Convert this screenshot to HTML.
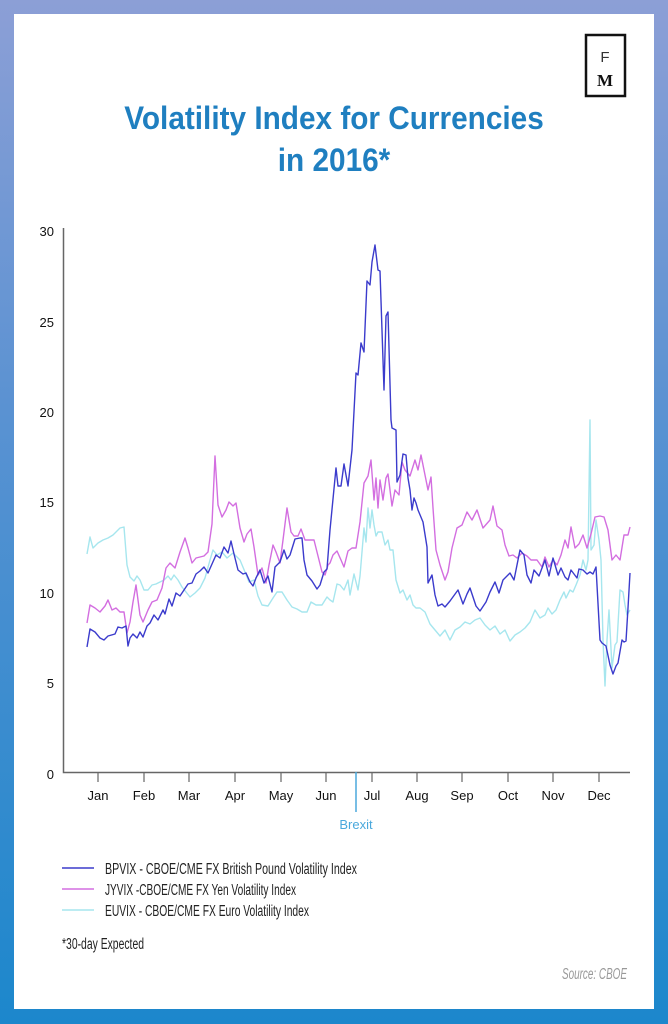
<!DOCTYPE html>
<html><head><meta charset="utf-8"><style>
body{margin:0;width:668px;height:1024px;overflow:hidden;background:linear-gradient(#8c9fd6,#5a92d2 40%,#1c87cc);font-family:"Liberation Sans",sans-serif}
.panel{position:absolute;left:14px;top:14px;width:640px;height:995px;background:#fff}
.t{position:absolute;left:0;width:668px;text-align:center;color:#1f7fc0;font-family:"Liberation Sans",sans-serif;font-weight:bold;font-size:32px;line-height:42px;transform:scaleX(0.93)}
</style></head><body>
<div class="panel"></div>
<div class="t" style="top:97px">Volatility Index for Currencies</div>
<div class="t" style="top:139px">in 2016*</div>
<svg width="668" height="1024" style="position:absolute;left:0;top:0" font-family="Liberation Sans,sans-serif">
<rect x="586" y="35" width="39" height="61" fill="none" stroke="#111" stroke-width="2.5"/>
<text x="605" y="62" font-size="15" text-anchor="middle" fill="#333">F</text>
<text x="605" y="86" font-size="17" font-weight="bold" font-family="Liberation Serif,serif" text-anchor="middle" fill="#111">M</text>
<g font-size="13" fill="#111" text-anchor="end">
<text x="54" y="236">30</text><text x="54" y="327">25</text><text x="54" y="417">20</text><text x="54" y="507">15</text><text x="54" y="598">10</text><text x="54" y="688">5</text><text x="54" y="779">0</text></g>
<path d="M63.5 228V772.5H630" stroke="#666" stroke-width="1.5" fill="none"/>
<g stroke="#666" stroke-width="1.2">
<path d="M98 772v10M144 772v10M189 772v10M235 772v10M281 772v10M326 772v10M372 772v10M417 772v10M462 772v10M508 772v10M553 772v10M599 772v10"/></g>
<line x1="356" y1="772" x2="356" y2="812" stroke="#4aa8dc" stroke-width="1.5"/>
<g font-size="13" fill="#111" text-anchor="middle">
<text x="98" y="800">Jan</text><text x="144" y="800">Feb</text><text x="189" y="800">Mar</text><text x="235" y="800">Apr</text><text x="281" y="800">May</text><text x="326" y="800">Jun</text><text x="372" y="800">Jul</text><text x="417" y="800">Aug</text><text x="462" y="800">Sep</text><text x="508" y="800">Oct</text><text x="553" y="800">Nov</text><text x="599" y="800">Dec</text></g>
<text x="356" y="829" font-size="13" fill="#4aa8dc" text-anchor="middle">Brexit</text>
<g fill="none" stroke-width="1.4" stroke-linejoin="round">
<polyline stroke="#a6e6ee" points="87,554 90,537 93,548 98,543 103,540 108,538 113,535 117,531 120,528 124,527 127,565 130,577 134,581 137,576 140,580 144,590 148,590 152,585 156,584 160,582 164,580 168,576 171,580 174,575 178,580 182,587 186,592 190,597 195,593 200,588 205,578 210,560 213,550 217,555 222,552 227,558 233,553 240,560 245,572 249,582 254,580 258,596 262,605 268,606 273,598 277,592 282,592 287,600 292,607 297,609 302,612 307,612 311,602 316,605 322,605 327,597 330,600 333,602 337,584 340,585 344,590 348,580 350,595 354,574 358,590 360,576 364,528 366,542 368,508 370,528 372,510 374,525 376,536 378,532 382,532 385,545 388,540 390,550 393,550 396,580 400,593 403,590 407,600 410,595 413,605 416,608 420,608 425,612 430,624 435,630 440,636 445,630 450,640 455,630 460,627 465,622 470,624 475,620 480,618 485,625 490,630 495,626 500,634 505,630 510,641 515,635 520,632 525,628 530,622 535,610 540,618 545,615 548,608 552,614 556,610 560,600 564,592 566,598 570,590 573,592 576,585 580,575 583,560 586,570 588,560 590,420 591,550 594,545 596,520 599,540 601,560 603,640 605,686 607,640 609,610 612,668 615,645 617,642 620,590 623,592 625,605 627,615 630,610"/>
<polyline stroke="#d36ee0" points="87,623 90,605 95,608 100,612 105,606 108,600 112,610 116,608 120,612 124,612 127,633 130,622 133,602 136,585 140,615 143,622 148,610 152,602 157,600 162,588 166,568 170,563 175,568 180,552 185,538 188,548 192,563 196,558 200,557 204,556 208,552 212,524 215,456 218,505 222,517 226,510 229,502 233,506 236,503 240,528 244,542 247,534 251,529 254,547 258,575 262,568 266,583 269,565 273,545 276,552 280,563 283,540 287,508 291,532 294,536 298,536 301,529 305,540 309,540 314,540 317,552 322,572 325,575 328,565 330,563 333,555 337,551 341,560 344,567 348,551 352,548 356,548 360,522 364,483 368,476 371,460 374,500 376,478 378,508 380,480 383,500 386,478 388,474 392,506 395,490 399,495 402,462 405,470 410,476 415,460 418,470 421,455 425,475 428,490 431,477 433,508 436,550 440,565 445,580 448,572 452,548 457,528 462,525 467,512 472,520 477,510 483,528 490,520 493,506 497,526 502,530 505,545 509,556 513,555 517,558 522,553 527,556 531,560 537,560 542,567 545,557 549,567 553,560 557,565 561,555 565,540 568,548 571,527 575,548 579,544 583,535 587,548 591,534 595,517 600,516 604,517 608,530 612,560 616,555 620,560 624,535 628,535 630,527"/>
<polyline stroke="#3b3bcc" points="87,647 90,629 95,632 100,638 104,640 108,636 115,634 118,627 122,628 126,626 128,646 130,638 133,634 137,638 140,632 143,637 147,626 150,623 154,615 158,620 163,610 165,614 169,599 172,606 176,593 180,596 184,590 188,584 192,583 196,574 200,571 204,567 208,573 212,564 216,555 220,558 224,547 228,553 231,541 234,554 238,570 243,574 246,573 250,582 253,586 256,578 260,570 264,583 268,576 272,592 275,567 280,562 284,550 287,559 290,555 295,539 300,538 302,538 304,560 307,575 312,581 317,589 320,585 324,572 327,569 330,530 336,468 338,486 341,486 344,464 348,486 352,450 356,373 358,375 361,343 364,352 367,281 370,285 372,262 375,245 378,270 380,271 383,360 384,390 386,316 388,312 391,420 392,428 396,430 397,482 400,475 403,454 406,455 408,478 410,490 412,510 414,498 416,503 418,510 423,522 427,547 428,583 432,575 435,595 438,606 442,604 445,607 450,601 458,590 463,604 467,594 470,588 476,606 480,611 486,602 490,592 495,582 499,593 503,580 510,573 514,580 520,550 524,555 527,575 531,583 534,570 539,576 545,560 549,576 553,558 558,575 561,568 565,577 568,580 571,570 577,578 579,569 583,570 587,574 590,572 593,574 596,567 600,640 602,643 606,646 610,665 613,674 616,666 618,663 622,640 624,642 626,641 628,608 630,573"/>
</g>
<g stroke-width="1.5"><line x1="62" y1="868" x2="94" y2="868" stroke="#3b3bcc"/><line x1="62" y1="889" x2="94" y2="889" stroke="#d36ee0"/><line x1="62" y1="910" x2="94" y2="910" stroke="#a6e6ee"/></g>
<g font-size="15.5" fill="#222"><text x="105" y="874" textLength="252" lengthAdjust="spacingAndGlyphs">BPVIX - CBOE/CME FX British Pound Volatility Index</text><text x="105" y="895" textLength="191" lengthAdjust="spacingAndGlyphs">JYVIX -CBOE/CME FX Yen Volatility Index</text><text x="105" y="916" textLength="204" lengthAdjust="spacingAndGlyphs">EUVIX - CBOE/CME FX Euro Volatility Index</text>
<text x="62" y="949" textLength="82" lengthAdjust="spacingAndGlyphs">*30-day Expected</text></g>
<text x="562" y="979" font-size="15.5" font-style="italic" fill="#999" textLength="65" lengthAdjust="spacingAndGlyphs">Source: CBOE</text>
</svg>
</body></html>
